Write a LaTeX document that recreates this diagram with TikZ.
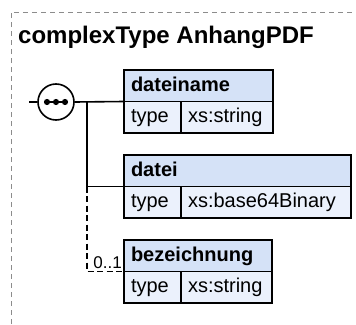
\documentclass[tikz,border=0pt]{standalone}
\usepackage{fontspec}
\setmainfont{Liberation Sans}
\definecolor{hdrfill}{HTML}{D5E2F7}
\definecolor{rowfill}{HTML}{EBF1FC}
\definecolor{framegray}{HTML}{8C8C8C}
\begin{document}
\begin{tikzpicture}[x=1pt,y=-1pt,
  cell/.style={draw=black, line width=1.8pt, inner xsep=7pt, inner ysep=0pt, outer sep=0pt,
    minimum height=31.5pt, anchor=north west, align=left, text height=15pt, text depth=4pt,
    font=\fontsize{20}{24}\selectfont},
  hdr/.style={cell, fill=hdrfill, font=\bfseries\fontsize{20}{24}\selectfont},
  row/.style={cell, fill=rowfill},
  conn/.style={line width=1.6pt, black},
  optconn/.style={conn, dash pattern=on 6pt off 3.5pt},
  seqbox/.style={circle, draw=black, line width=1.6pt, fill=white, minimum size=36pt, inner sep=0pt}]
\useasboundingbox (0,0) rectangle (356,324);
% outer frame (partially visible)
\draw[framegray, line width=0.9pt, dash pattern=on 5pt off 4pt] (11,324) -- (11,12) -- (356,12);
% title
\node[anchor=base west, inner sep=0pt, font=\bfseries\fontsize{24}{28}\selectfont] (title) at (18,43) {complexType AnhangPDF};
% sequence compositor
\node[seqbox] (seq) at (56,102) {};
\draw[line width=1.3pt] (seq.center) ++(-11,0) -- ++(22,0);
\foreach \dx in {-9,0,9} \fill (seq.center) ++(\dx,0) circle (3.1pt);
% element boxes
\node[hdr, text width=135pt] (h1) at (124,70) {dateiname};
\node[row, text width=43pt] (t1) at (h1.south west) {type};
\node[row, text width=78pt] (v1) at (t1.north east) {xs:string};
\node[hdr, text width=213pt] (h2) at (124,155) {datei};
\node[row, text width=43pt] (t2) at (h2.south west) {type};
\node[row, text width=156pt] (v2) at (t2.north east) {xs:base64Binary};
\node[hdr, text width=134pt] (h3) at (124,240) {bezeichnung};
\node[row, text width=43pt] (t3) at (h3.south west) {type};
\node[row, text width=77pt] (v3) at (t3.north east) {xs:string};
% connectors
\coordinate (inl) at (29,102);
\coordinate (jn) at (87,102);
\draw[conn] (inl) -- (seq.west);
\draw[conn] (seq.east) -- (h1.south west);
\draw[conn] (jn) |- (h2.south west);
\draw[optconn] (jn |- h2.south west) |- (h3.south west);
\node[anchor=base east, inner sep=0pt, font=\fontsize{17}{20}\selectfont] (occ) at (122,268.5) {0..1};
\end{tikzpicture}
\end{document}
